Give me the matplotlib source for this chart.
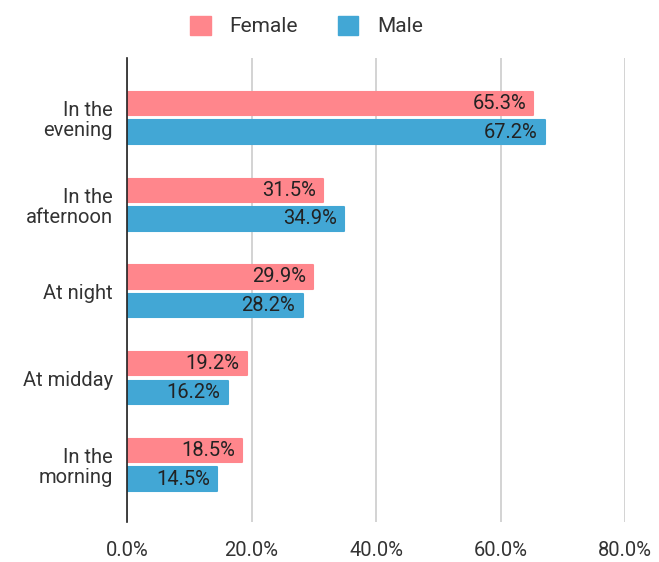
import numpy as np
import matplotlib
matplotlib.use('Agg')
import matplotlib.pyplot as plt
from matplotlib.patches import Patch
from matplotlib.ticker import FuncFormatter

plt.rcParams['font.family'] = ['Roboto', 'DejaVu Sans']

categories = ['In the\nevening', 'In the\nafternoon', 'At night', 'At midday', 'In the\nmorning']
female = [65.3, 31.5, 29.9, 19.2, 18.5]
male = [67.2, 34.9, 28.2, 16.2, 14.5]
xticks = [0, 20, 40, 60, 80]

C_F, C_M = '#FF868C', '#42A7D5'

fig = plt.figure(figsize=(6.59, 5.62), dpi=100)
ax = fig.add_axes([127 / 659, 40 / 562, 498 / 659, 464 / 562])

y = np.arange(len(categories))
h = 0.27
off = 0.165
for vals, col, d in ((female, C_F, -off), (male, C_M, off)):
    ax.barh(y + d, vals, height=h, color=col, edgecolor=col, linewidth=1.5,
            joinstyle='round', zorder=3)
    for yi, v in zip(y + d, vals):
        ax.text(v - 1.2, yi, '%.1f%%' % v, ha='right', va='center',
                fontsize=14.5, color='#222222', zorder=4)

ax.set_ylim(len(categories) - 1 + 0.66, -0.69)
ax.set_xlim(0, 80)
ax.set_yticks(y)
ax.set_yticklabels(categories, fontsize=14.5, color='#333333', linespacing=1.1)
ax.set_xticks(xticks)
ax.xaxis.set_major_formatter(FuncFormatter(lambda v, p: '%.1f%%' % v))
ax.tick_params(axis='x', labelsize=14.5, labelcolor='#333333', length=0, pad=14)
ax.tick_params(axis='y', length=0, pad=10)
ax.grid(axis='x', color='#CCCCCC', lw=1.2, zorder=0)
for s in ('top', 'right', 'bottom'):
    ax.spines[s].set_visible(False)
ax.spines['left'].set_color('#222222')
ax.spines['left'].set_linewidth(1.2)
ax.spines['left'].set_zorder(5)

handles = [Patch(facecolor=C_F, edgecolor=C_F, label='Female'),
           Patch(facecolor=C_M, edgecolor=C_M, label='Male')]
fig.legend(handles=handles, loc='upper center', bbox_to_anchor=(0.465, 1.005), ncol=2,
           frameon=False, fontsize=15, handlelength=1.0, handleheight=1.0,
           columnspacing=1.9, handletextpad=0.9, labelcolor='#333333')

fig.savefig('out.png', dpi=100)
